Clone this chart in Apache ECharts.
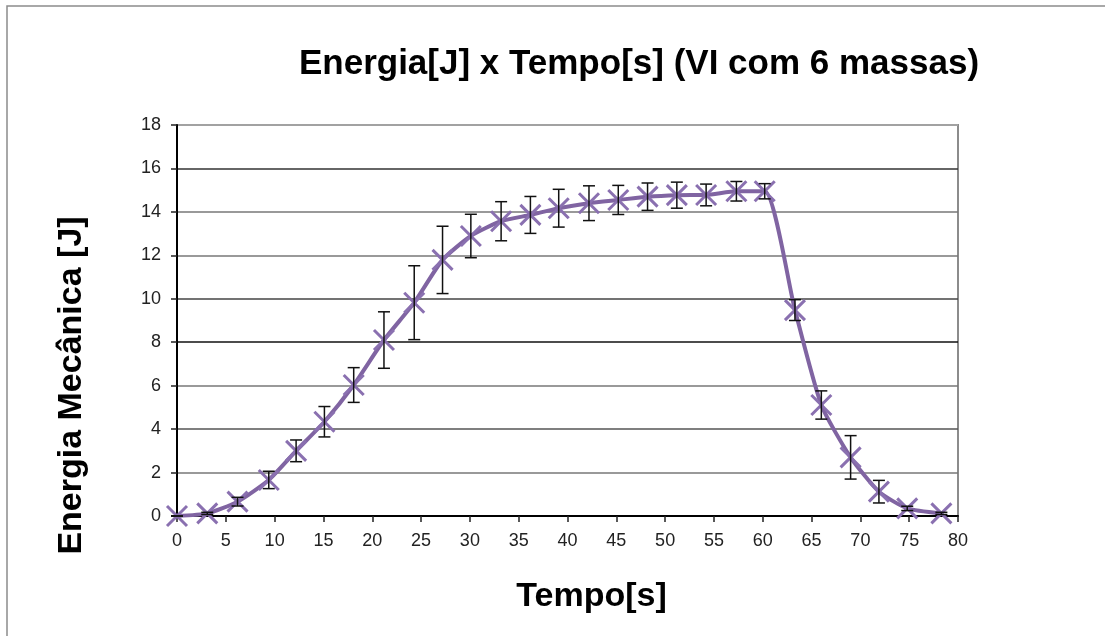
<!DOCTYPE html>
<html>
<head>
<meta charset="utf-8">
<script src="https://cdn.jsdelivr.net/npm/echarts@6/dist/echarts.min.js"></script>
<style>
html, body { margin: 0; padding: 0; background: #fff; }
#chart { width: 1105px; height: 636px; }
</style>
</head>
<body>
<div id="chart"></div>
<script>
// tempo [s]
var tempos = [0, 3.1, 6.2, 9.4, 12.2, 15.1, 18.1, 21.2, 24.3, 27.2, 30.1, 33.2, 36.2, 39.1, 42.2, 45.2, 48.2, 51.2, 54.2, 57.3, 60.2, 63.3, 66.0, 69.0, 71.9, 74.8, 78.3];
// energia mecanica [J]
var energias = [0, 0.12, 0.66, 1.66, 3.0, 4.34, 6.03, 8.1, 9.82, 11.79, 12.89, 13.57, 13.86, 14.17, 14.4, 14.55, 14.7, 14.77, 14.78, 14.95, 14.95, 9.48, 5.11, 2.7, 1.12, 0.35, 0.12];
// barras de erro (+/-)
var erros = [0, 0.05, 0.2, 0.4, 0.5, 0.7, 0.8, 1.3, 1.7, 1.55, 1.0, 0.9, 0.85, 0.87, 0.8, 0.67, 0.63, 0.6, 0.5, 0.45, 0.35, 0.48, 0.65, 1.0, 0.52, 0.1, 0.05];

var pontos = [];
var barras = [];
for (var i = 0; i < tempos.length; i++) {
	pontos.push([tempos[i], energias[i]]);
	barras.push([tempos[i], energias[i] - erros[i], energias[i] + erros[i]]);
}

var roxo = '#8064a2';
var fonte = 'Liberation Sans, Arial, sans-serif';

var chart = echarts.init(document.getElementById('chart'));
var option = {
	animation: false,
	backgroundColor: '#fff',
	graphic: [{
		type: 'rect',
		shape: { x: 7, y: 6, width: 1300, height: 800 },
		style: { fill: 'none', stroke: '#8c8c8c', lineWidth: 1.5 },
		silent: true
	}],
	title: {
		text: 'Energia[J] x Tempo[s] (VI com 6 massas)',
		left: 634,
		top: 42,
		textAlign: 'center',
		textStyle: { fontFamily: fonte, fontSize: 35, fontWeight: 'bold', color: '#000' }
	},
	grid: {
		left: 177, right: 147, top: 125, bottom: 120,
		show: true, borderColor: '#8c8c8c', borderWidth: 2
	},
	xAxis: {
		type: 'value',
		min: 0, max: 80, interval: 5,
		name: 'Tempo[s]',
		nameLocation: 'middle',
		nameGap: 64,
		nameTextStyle: { fontFamily: fonte, fontSize: 34, fontWeight: 'bold', color: '#000', padding: [0, 0, 0, 48] },
		axisLine: { show: true, onZero: false, lineStyle: { color: '#000', width: 2 } },
		axisTick: { show: true, inside: false, length: 6, lineStyle: { color: '#222', width: 1.5 } },
		axisLabel: { fontFamily: fonte, fontSize: 18, color: '#222', margin: 16 },
		splitLine: { show: false }
	},
	yAxis: {
		type: 'value',
		min: 0, max: 18, interval: 2,
		name: 'Energia Mecânica [J]',
		nameLocation: 'middle',
		nameGap: 88,
		nameTextStyle: { fontFamily: fonte, fontSize: 34, fontWeight: 'bold', color: '#000', padding: [0, 130, 0, 0] },
		axisLine: { show: true, lineStyle: { color: '#000', width: 2 } },
		axisTick: { show: true, inside: false, length: 6, lineStyle: { color: '#222', width: 1.5 } },
		axisLabel: { fontFamily: fonte, fontSize: 18, color: '#222', margin: 16 },
		splitLine: {
			show: true,
			lineStyle: {
				width: 1.5,
				color: ['#000', '#777', '#555', '#777', '#111', '#444', '#777', '#777', '#333', '#aaa']
			}
		}
	},
	series: [{
		name: 'Energia',
		type: 'line',
		data: pontos,
		smooth: 0.2,
		z: 3,
		lineStyle: { color: roxo, width: 4 },
		symbol: 'path://M0,0L20,20M20,0L0,20',
		symbolSize: 20,
		itemStyle: { color: 'rgba(0,0,0,0)', borderColor: '#8a70b0', borderWidth: 3 }
	}, {
		name: 'Erro',
		type: 'custom',
		data: barras,
		z: 4,
		renderItem: function (params, api) {
			var x = api.value(0);
			var baixo = api.coord([x, api.value(1)]);
			var alto = api.coord([x, api.value(2)]);
			var cap = 6;
			var st = { stroke: '#111', lineWidth: 1.5 };
			return {
				type: 'group',
				children: [
					{ type: 'line', shape: { x1: baixo[0], y1: baixo[1], x2: alto[0], y2: alto[1] }, style: st },
					{ type: 'line', shape: { x1: alto[0] - cap, y1: alto[1], x2: alto[0] + cap, y2: alto[1] }, style: st },
					{ type: 'line', shape: { x1: baixo[0] - cap, y1: baixo[1], x2: baixo[0] + cap, y2: baixo[1] }, style: st }
				]
			};
		}
	}]
};
chart.setOption(option);
</script>
</body>
</html>
